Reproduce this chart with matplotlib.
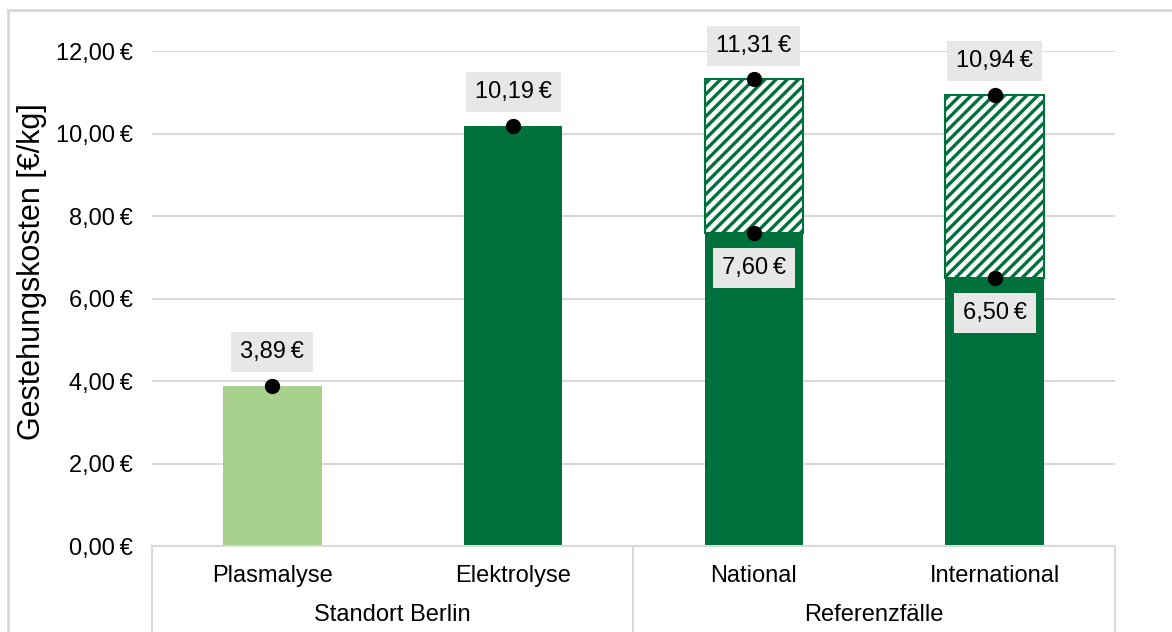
import matplotlib.pyplot as plt
from matplotlib.lines import Line2D

plt.rcParams['font.family'] = ['Liberation Sans', 'DejaVu Sans']
plt.rcParams['hatch.linewidth'] = 2.4

categories = ['Plasmalyse', 'Elektrolyse', 'National', 'International']
groups = ['Standort Berlin', 'Referenzfälle']
base = [3.89, 10.19, 7.60, 6.50]
total = [3.89, 10.19, 11.31, 10.94]
yticks = [0, 2, 4, 6, 8, 10, 12]

dark = '#00703c'
light = '#a9d18e'
grid = '#d9d9d9'
fs = 17


def euro(v):
    return f'{v:.2f}\u2009€'.replace('.', ',')


fig = plt.figure(figsize=(11.72, 6.32), dpi=100)
ax = fig.add_axes([152 / 1172, 1 - 546 / 632, (1115 - 152) / 1172, (546 - 51) / 632])

x = list(range(len(categories)))
colors = [light, dark, dark, dark]
ax.bar(x, base, width=0.41, color=colors, zorder=2)

# transport share on top of the local cost
extra = [t - b for t, b in zip(total, base)]
ax.bar(x[2:], extra[2:], bottom=base[2:], width=0.41, color='white',
       edgecolor=dark, hatch='///', linewidth=1.5, zorder=2)

ax.scatter(x, total, s=100, color='black', zorder=4, clip_on=False)
ax.scatter(x[2:], base[2:], s=100, color='black', zorder=4)

box = dict(boxstyle='square,pad=0.38', facecolor='#e7e7e7', edgecolor='none')
for xi, v in zip(x, total):
    ax.annotate(euro(v), (xi, v), xytext=(0, 24),
                textcoords='offset points', ha='center', va='center',
                fontsize=fs, bbox=box, zorder=5, annotation_clip=False)
for xi, v in zip(x[2:], base[2:]):
    ax.annotate(euro(v), (xi, v), xytext=(0, -25.5),
                textcoords='offset points', ha='center', va='center',
                fontsize=fs, bbox=box, zorder=5)

ax.set_xlim(-0.5, 3.5)
ax.set_ylim(0, 12)
ax.set_yticks(yticks)
ax.set_yticklabels([euro(t) for t in yticks], fontsize=fs)
ax.yaxis.grid(True, color=grid, linewidth=1.5, zorder=0)
ax.set_axisbelow(True)
ax.tick_params(axis='y', length=0, pad=14)
ax.set_xticks([])
for s in ['top', 'right', 'left']:
    ax.spines[s].set_visible(False)
ax.spines['bottom'].set_color(grid)
ax.spines['bottom'].set_linewidth(1.5)
ax.set_ylabel('Gestehungskosten [€/kg]', fontsize=22, va='center')
ax.yaxis.set_label_coords(-0.1246, 0.5535)

# two-level category axis
trans = ax.get_xaxis_transform()
for xi, c in zip(x, categories):
    ax.text(xi, -0.06, c, transform=trans, ha='center', va='center', fontsize=fs)
for gx, g in zip([0.5, 2.5], groups):
    ax.text(gx, -0.14, g, transform=trans, ha='center', va='center', fontsize=fs)
for sx in [-0.5, 1.5, 3.5]:
    ax.add_line(Line2D([sx, sx], [0, -0.2], transform=trans, color=grid,
                       linewidth=1.5, clip_on=False))

# outer frame
fig.add_artist(Line2D([8 / 1172, 8 / 1172], [0, 1 - 10 / 632], color=grid, linewidth=2))
fig.add_artist(Line2D([8 / 1172, 1], [1 - 10 / 632, 1 - 10 / 632], color=grid, linewidth=2))

fig.savefig('out.png', dpi=100)
